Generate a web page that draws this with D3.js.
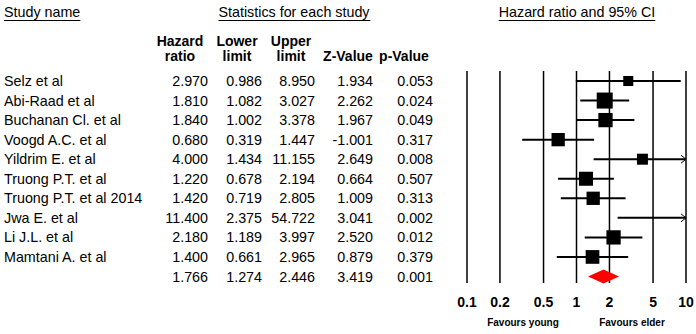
<!DOCTYPE html>
<html>
<head>
<meta charset="utf-8">
<script src="https://cdn.jsdelivr.net/npm/d3@7"></script>
<style>
  body { margin: 0; background: #fff; }
  svg { display: block; font-family: "Liberation Sans", Arial, sans-serif; }
</style>
</head>
<body>
<svg id="chart"></svg>
<script>
const studies = ["Selz et al", "Abi-Raad et al", "Buchanan Cl. et al", "Voogd A.C. et al",
  "Yildrim E. et al", "Truong P.T. et al", "Truong P.T. et al 2014", "Jwa E. et al",
  "Li J.L. et al", "Mamtani A. et al"];
const hazard = [2.970, 1.810, 1.840, 0.680, 4.000, 1.220, 1.420, 11.400, 2.180, 1.400];
const lower  = [0.986, 1.082, 1.002, 0.319, 1.434, 0.678, 0.719, 2.375, 1.189, 0.661];
const upper  = [8.950, 3.027, 3.378, 1.447, 11.155, 2.194, 2.805, 54.722, 3.997, 2.965];
const zValue = [1.934, 2.262, 1.967, -1.001, 2.649, 0.664, 1.009, 3.041, 2.520, 0.879];
const pValue = [0.053, 0.024, 0.049, 0.317, 0.008, 0.507, 0.313, 0.002, 0.012, 0.379];
// relative weights
const weights = [5.6, 14.2, 11.3, 9.8, 6.7, 10.9, 9.8, 3.9, 11.3, 10.4];

const pooled = { hazard: 1.766, lower: 1.274, upper: 2.446, z: 3.419, p: 0.001 };
const axisTicks = [0.1, 0.2, 0.5, 1, 2, 5, 10];

const width = 696, height = 334;
const svg = d3.select("#chart").attr("width", width).attr("height", height);

const rowY = d3.scaleLinear().domain([0, 10]).range([81, 276.5]);
const x = d3.scaleLog().domain([0.1, 10]).range([467, 686]);
const size = d3.scaleSqrt().domain([0, d3.max(weights)]).range([0, 16]);
const fmt = v => d3.format(".3f")(v).replace("\u2212", "-");
const fs = "14.3px";

// underlined section titles
function title(txt, xPos, anchor) {
  const t = svg.append("text")
    .attr("x", xPos).attr("y", 17)
    .attr("text-anchor", anchor)
    .style("font-size", fs)
    .text(txt);
  const b = t.node().getBBox();
  svg.append("line")
    .attr("x1", b.x).attr("x2", b.x + b.width)
    .attr("y1", 20.5).attr("y2", 20.5)
    .attr("stroke", "#000").attr("stroke-width", 1);
}
title("Study name", 4, "start");
title("Statistics for each study", 294, "middle");
title("Hazard ratio and 95% CI", 577, "middle");

// column headers
const cols = [
  { l1: "Hazard", l2: "ratio", cx: 180, rx: 208 },
  { l1: "Lower", l2: "limit", cx: 237, rx: 262 },
  { l1: "Upper", l2: "limit", cx: 291, rx: 315 },
  { l1: "", l2: "Z-Value", cx: 348, rx: 373 },
  { l1: "", l2: "p-Value", cx: 404, rx: 433 }
];
cols.forEach(c => {
  const g = svg.append("g").style("font-size", "14px").style("font-weight", "bold")
    .attr("text-anchor", "middle");
  g.append("text").attr("x", c.cx).attr("y", 46).text(c.l1);
  g.append("text").attr("x", c.cx).attr("y", 61).text(c.l2);
});

// table rows
const rows = studies.map((s, i) => ({
  name: s, vals: [hazard[i], lower[i], upper[i], zValue[i], pValue[i]],
  hr: hazard[i], lo: lower[i], hi: upper[i], w: weights[i], i
}));
const allRows = rows.concat([{ name: "", vals: [pooled.hazard, pooled.lower, pooled.upper, pooled.z, pooled.p], i: 10 }]);

const rowG = svg.selectAll("g.row").data(allRows).enter().append("g")
  .attr("class", "row")
  .style("font-size", fs);
rowG.append("text")
  .attr("x", 4).attr("y", d => rowY(d.i) + 5)
  .text(d => d.name);
rowG.selectAll("text.val").data(d => d.vals.map((v, k) => ({ v, k, i: d.i }))).enter()
  .append("text").attr("class", "val")
  .attr("x", d => cols[d.k].rx).attr("y", d => rowY(d.i) + 5)
  .attr("text-anchor", "end")
  .text(d => fmt(d.v));

// forest plot grid lines
svg.selectAll("line.grid").data(axisTicks).enter().append("line")
  .attr("x1", d => x(d)).attr("x2", d => x(d))
  .attr("y1", 71).attr("y2", 283)
  .attr("stroke", "#000").attr("stroke-width", 1.5);

svg.selectAll("text.tick").data(axisTicks).enter().append("text")
  .attr("x", d => x(d)).attr("y", 307)
  .attr("text-anchor", "middle")
  .style("font-size", "14px").style("font-weight", "bold")
  .text(d => d);

svg.append("text").attr("x", 523).attr("y", 326).attr("text-anchor", "middle")
  .style("font-size", "10px").style("font-weight", "bold").text("Favours young");
svg.append("text").attr("x", 632).attr("y", 326).attr("text-anchor", "middle")
  .style("font-size", "10px").style("font-weight", "bold").text("Favours elder");

// confidence intervals
const [xmin, xmax] = x.domain();
rows.forEach(d => {
  const y = rowY(d.i);
  const x1 = x(Math.max(d.lo, xmin)), x2 = x(Math.min(d.hi, xmax));
  svg.append("line").attr("x1", x1).attr("x2", x2).attr("y1", y).attr("y2", y)
    .attr("stroke", "#000").attr("stroke-width", 2);
  if (d.hi > xmax) {
    svg.append("path")
      .attr("d", `M${x2 - 5},${y - 4}L${x2},${y}L${x2 - 5},${y + 4}`)
      .attr("fill", "none").attr("stroke", "#000").attr("stroke-width", 1);
  }
  if (d.hr >= xmin && d.hr <= xmax) {
    const s = size(d.w);
    svg.append("rect")
      .attr("x", x(d.hr) - s / 2).attr("y", y - s / 2)
      .attr("width", s).attr("height", s)
      .attr("fill", "#000");
  }
});

// pooled diamond
const py = rowY(10);
svg.append("path")
  .attr("d", `M${x(pooled.lower)},${py}L${x(pooled.hazard)},${py - 7}L${x(pooled.upper)},${py}L${x(pooled.hazard)},${py + 7}Z`)
  .attr("fill", "#ff0000");
</script>
</body>
</html>
